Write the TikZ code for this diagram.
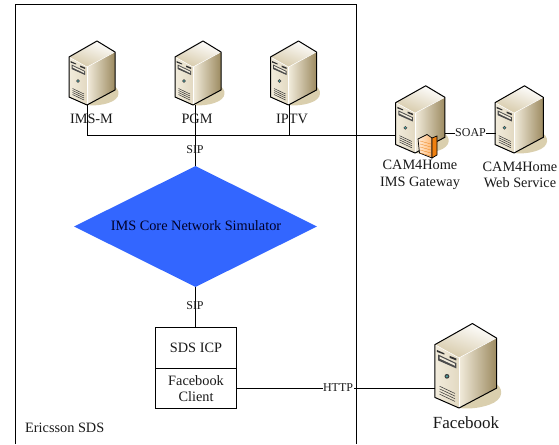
\documentclass[tikz,border=0pt]{standalone}
\usepackage{fontspec}
\setmainfont{Liberation Serif}
\usetikzlibrary{shapes.geometric}
\definecolor{srvshadow}{HTML}{DACFAE}
\definecolor{srvtan}{HTML}{9C8A60}
\definecolor{srvcream}{HTML}{F2ECDC}
\definecolor{srvmid}{HTML}{D6C9A8}
\definecolor{diamondblue}{HTML}{3366FF}
\tikzset{
  x=1pt,y=-1pt,
  wire/.style={draw=black,line width=1pt},
  lbl/.style={font=\fontsize{14.3}{16.5}\selectfont,align=center,inner sep=0pt,text=black!90},
  proto/.style={font=\fontsize{12}{13}\selectfont,inner sep=0.5pt,text=black!90},
  server/.pic={
    % ground shadow
    \fill[srvshadow] (20,-22) .. controls (33,-19) and (35,-9) .. (26,-4)
       .. controls (18,0) and (8,1) .. (0,0) -- cycle;
    % top face
    \shade[top color=white,bottom color=srvmid,shading angle=-20]
      (10,-64) -- (28,-53) -- (0,-38) -- (-18,-48) -- cycle;
    % right face
    \shade[left color=srvcream,right color=srvtan]
      (0,-38) -- (28,-53) -- (28,-15) -- (0,0) -- cycle;
    % front face
    \shade[left color=srvcream,right color=srvmid!70!white]
      (-18,-48) -- (0,-38) -- (0,0) -- (-18,-8) -- cycle;
    \draw[white,line width=0.7pt] (0,-38) -- (0,0);
    \draw[white,line width=0.5pt] (0,-38) -- (-18,-48);
    \draw[white,line width=0.5pt] (0,-38) -- (28,-53);
    % drive slots
    \fill[black!80] (-16.5,-44) -- (-11,-41.5) -- (-11,-40.5) -- (-16.5,-42.5) -- cycle;
    \fill[black!80] (-7,-39.5) -- (-2,-37.5) -- (-2,-36) -- (-7,-38) -- cycle;
    \fill[black!70] (-15.5,-40.5) -- (-2,-34) -- (-2,-30) -- (-15.5,-36) -- cycle;
    \fill[srvcream] (-14.5,-39) -- (-3,-33.5) -- (-3,-32) -- (-14.5,-37.5) -- cycle;
    % button
    \fill[black!75] (-9,-24) circle (1.8);
    \fill[teal!70!white] (-9,-24) circle (0.9);
    % vents
    \foreach \d in {0,2,4,6}
      \draw[black!80,line width=0.5pt] (-14.5,-16.5+\d) -- (-3,-11+\d);
    % outline
    \draw[black,line width=1pt,line join=round]
      (10,-64) -- (28,-53) -- (28,-15) -- (0,0) -- (-18,-8) -- (-18,-48) -- cycle;
    \coordinate (-b) at (0,0);
    \coordinate (-l) at (-18,-20);
    \coordinate (-r) at (28,-20);
  },
}
\begin{document}
\begin{tikzpicture}
\useasboundingbox (0,0) rectangle (559,444);
\clip (0,0) rectangle (559,444);

% enclosing frame of Ericsson SDS
\coordinate (fbl) at (15,444);
\coordinate (ftl) at (15,4.5);
\coordinate (ftr) at (356,4.5);
\coordinate (fbr) at (356,444);
\draw[black,line width=0.8pt] (fbl) -- (ftl) -- (ftr) -- (fbr);
\node[lbl,anchor=west] (sds) at (25,428) {Ericsson SDS};

% servers
\pic (ims) at (87,105) {server};
\pic (pgm) at (193,105) {server};
\pic (iptv) at (288.5,105) {server};
\pic[xscale=1.07,yscale=1.05] (gw) at (415,153) {server};
\pic[xscale=1.05,yscale=1.05] (web) at (514,153) {server};
\pic[xscale=1.34,yscale=1.32] (fb) at (459,408) {server};

% bus
\coordinate (busl) at (87,135.3);
\coordinate (busp) at (195.5,135.3);
\coordinate (busi) at (289.5,135.3);
\draw[wire] (ims-b) -- (busl) -- (gw-l |- busl);
\draw[wire] (pgm-b -| busp) -- (busp);
\draw[wire] (iptv-b -| busi) -- (busi);

% IMS core diamond
\node[diamond,fill=diamondblue,draw=none,aspect=2,inner sep=0pt,
      minimum width=243pt,minimum height=121pt] (core) at (195.5,226.5) {};
\node[lbl,text=black!85!blue] (coretxt) at (196,226) {IMS Core Network Simulator};

% SDS box
\node[draw,line width=1pt,minimum width=81pt,minimum height=41pt,inner sep=0pt,anchor=north west,lbl] (icp) at (155,327) {SDS ICP};
\node[draw,line width=1pt,minimum width=81pt,minimum height=40pt,inner sep=0pt,anchor=north west,lbl] (fbc) at (155,368) {Facebook\\Client};

% connectors
\draw[wire] (busp) -- (core.north);
\draw[wire] (core.south) -- (icp.north -| core.south);
\draw[wire] (fbc.east) -- (fb-l |- fbc.east);
\coordinate (soapl) at (445,133);
\coordinate (soapr) at (496,133);
\draw[wire] (soapl) -- (soapr);

% protocol labels
\node[proto] (sip1) at (195,150) {SIP};
\node[proto] (sip2) at (195,306) {SIP};
\node[proto,fill=white] (soap) at (470.5,133) {SOAP};
\node[proto,fill=white] (http) at (338,388) {HTTP};

% server labels
\node[lbl] (l1) at (91.5,119) {IMS-M};
\node[lbl] (l2) at (197,119) {PGM};
\node[lbl] (l3) at (292,119) {IPTV};
\node[lbl] (l4) at (420,175) {CAM4Home\\IMS Gateway};
\node[lbl] (l5) at (520,175) {CAM4Home\\Web Service};
\node[lbl,font=\fontsize{17}{20}\selectfont] (l6) at (466,423) {Facebook};

% firewall on gateway
\shade[left color=orange!15!white,right color=orange!55!white,draw=black,line width=0.7pt]
  (418,139) -- (427,134.5) -- (432,138) -- (432,158) -- (419.5,153) -- cycle;
\foreach \yy in {141,144,147,150,153}
  \draw[orange!70!brown,line width=0.3pt] (420,\yy) -- (431,\yy+3);
\fill[orange!75!brown,draw=black,line width=0.7pt] (432,138) -- (437,136) -- (437,155) -- (432,158) -- cycle;
\end{tikzpicture}
\end{document}
